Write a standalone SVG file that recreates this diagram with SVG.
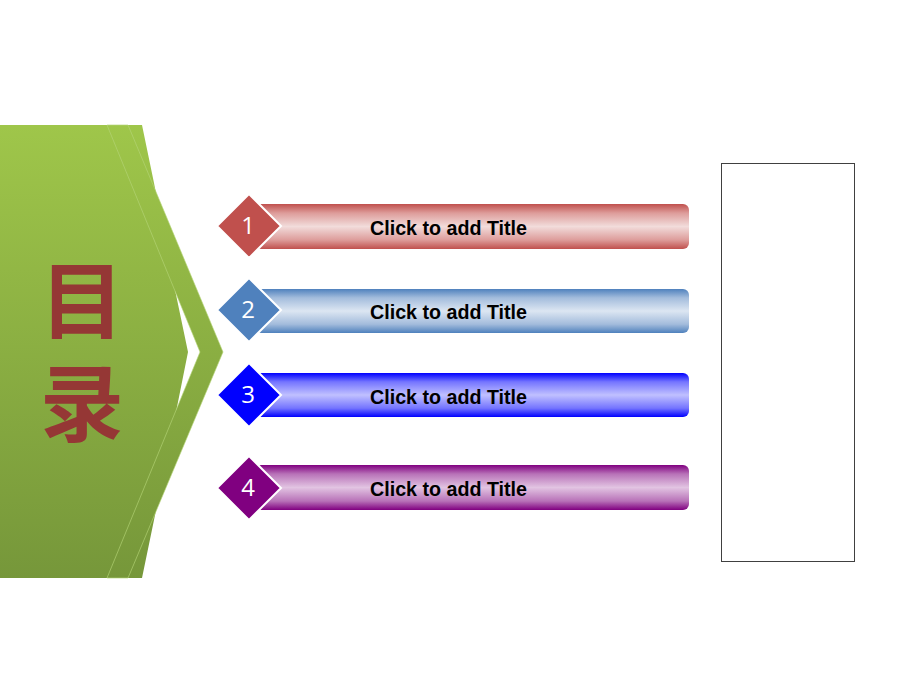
<svg xmlns="http://www.w3.org/2000/svg" width="920" height="690" viewBox="0 0 920 690">
  <defs>
    <linearGradient id="gGreen" gradientUnits="userSpaceOnUse" x1="0" y1="125" x2="0" y2="578">
      <stop offset="0" stop-color="#9fc64a"/>
      <stop offset="1" stop-color="#76973a"/>
    </linearGradient>
    <linearGradient id="gRed" x1="0" y1="0" x2="0" y2="1">
      <stop offset="0" stop-color="#c0504d"/>
      <stop offset="0.2" stop-color="#dd9c9a"/>
      <stop offset="0.5" stop-color="#f2dcdb"/>
      <stop offset="0.8" stop-color="#dd9c9a"/>
      <stop offset="1" stop-color="#c0504d"/>
    </linearGradient>
    <linearGradient id="gBlue" x1="0" y1="0" x2="0" y2="1">
      <stop offset="0" stop-color="#4f81bd"/>
      <stop offset="0.2" stop-color="#a3bcdc"/>
      <stop offset="0.5" stop-color="#dce6f2"/>
      <stop offset="0.8" stop-color="#a3bcdc"/>
      <stop offset="1" stop-color="#4f81bd"/>
    </linearGradient>
    <linearGradient id="gBlue3" x1="0" y1="0" x2="0" y2="1">
      <stop offset="0" stop-color="#0000ff"/>
      <stop offset="0.2" stop-color="#7474ff"/>
      <stop offset="0.5" stop-color="#c0c0ff"/>
      <stop offset="0.8" stop-color="#7474ff"/>
      <stop offset="1" stop-color="#0000ff"/>
    </linearGradient>
    <linearGradient id="gPurple" x1="0" y1="0" x2="0" y2="1">
      <stop offset="0" stop-color="#800080"/>
      <stop offset="0.2" stop-color="#b872b8"/>
      <stop offset="0.5" stop-color="#e2c4e2"/>
      <stop offset="0.8" stop-color="#b872b8"/>
      <stop offset="1" stop-color="#800080"/>
    </linearGradient>
    <style>
      .title { font-family: "Liberation Sans", Arial, sans-serif; font-weight: bold; font-size: 20px; fill: #000000; }
      .num { font-family: "Open Sans", "Liberation Sans", sans-serif; font-size: 24px; fill: #ffffff; text-anchor: middle; }
      .dia { stroke: #ffffff; stroke-width: 2; }
      .cn { font-family: "Noto Sans CJK SC", sans-serif; font-weight: bold; font-size: 84px; fill: #953735; writing-mode: vertical-rl; letter-spacing: 19px; }
    </style>
  </defs>

  <g id="banner">
    <polygon points="0,125 142,125 154,183 174,285 188,352 175,417 154,520 142,578 0,578" fill="url(#gGreen)"/>
    <polygon points="107,125 128,125 223,352 128,578 107,578 200,352" fill="url(#gGreen)" stroke="#b5d577" stroke-width="0.8" stroke-opacity="0.8"/>
    <text class="cn" x="82" y="258">目录</text>
  </g>

  <g id="item1">
    <rect x="255" y="204" width="434" height="45" rx="6" fill="url(#gRed)"/>
    <polygon class="dia" points="249,194 281,226 249,258 217,226" fill="#c0504d"/>
    <text class="num" x="248" y="234">1</text>
    <text class="title" x="370" y="235" textLength="157" lengthAdjust="spacingAndGlyphs">Click to add Title</text>
  </g>

  <g id="item2">
    <rect x="255" y="289" width="434" height="44" rx="6" fill="url(#gBlue)"/>
    <polygon class="dia" points="249,278 281,310 249,342 217,310" fill="#4f81bd"/>
    <text class="num" x="248" y="318">2</text>
    <text class="title" x="370" y="319" textLength="157" lengthAdjust="spacingAndGlyphs">Click to add Title</text>
  </g>

  <g id="item3">
    <rect x="255" y="373" width="434" height="44" rx="6" fill="url(#gBlue3)"/>
    <polygon class="dia" points="249,363 281,395 249,427 217,395" fill="#0000ff"/>
    <text class="num" x="248" y="403">3</text>
    <text class="title" x="370" y="404" textLength="157" lengthAdjust="spacingAndGlyphs">Click to add Title</text>
  </g>

  <g id="item4">
    <rect x="255" y="465" width="434" height="45" rx="6" fill="url(#gPurple)"/>
    <polygon class="dia" points="249,456 281,488 249,520 217,488" fill="#800080"/>
    <text class="num" x="248" y="496">4</text>
    <text class="title" x="370" y="496" textLength="157" lengthAdjust="spacingAndGlyphs">Click to add Title</text>
  </g>

  <g id="side-box">
    <rect x="721.5" y="163.5" width="133" height="398" fill="#ffffff" stroke="#404040" stroke-width="1"/>
  </g>

  <g id="connectors"></g>
</svg>
